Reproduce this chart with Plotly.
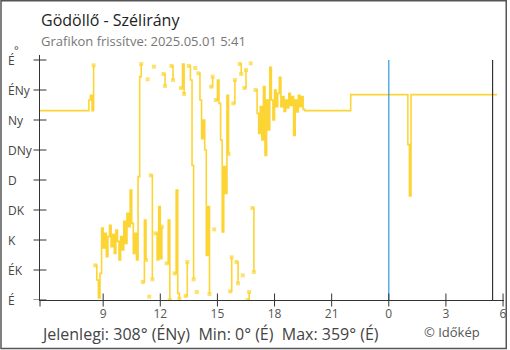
import plotly.graph_objects as go

# Compass labels on the direction axis (degrees)
dir_ticks = [0, 45, 90, 135, 180, 225, 270, 315, 360]
dir_labels = ["É", "ÉK", "K", "DK", "D", "DNy", "Ny", "ÉNy", "É"]

# Hour axis: hours counted from the previous day's midnight
hour_ticks = [9, 12, 15, 18, 21, 24, 27, 30]
hour_text = ["9", "12", "15", "18", "21", "0", "3", "6"]
x_range = [5.683, 30.05]

# Calm morning
early_hours = [5.683]
early_deg = [284]

# Gusty period, 5-minute readings from 8:10
gusty_start = 8 + 10 / 60
gusty_step = 5 / 60
gusty_deg = [
    284, 300, 307, 284, 352, 52, 30, 3, 40, 108,
    78, 100, 65, 95, 112, 80, 98, 70, 105, 88,
    60, 95, 75, 118, 85, 130, 110, 165, 115, 70,
    100, 60, 185, 335, 354, 27, 120, 60, 331, 5,
    187, 31, 350, 100, 60, 140, 62, 110, 339, 321,
    55, 120, 0, 351, 330, 40, 165, 10, 2, 318,
    354, 309, 6, 57, 351, 330, 202, 31, 348, 12,
    340, 300, 242, 270, 225, 67, 140, 9, 320, 335,
    106, 300, 330, 295, 240, 102, 200, 160, 307, 219,
    13, 64, 295, 330, 57, 25, 354, 339, 37, 318,
    345, 0, 12, 355, 138, 42, 315, 280, 250, 290,
    240, 320, 217, 300, 255, 349, 300, 270, 315, 290,
    310, 334, 290, 305, 283, 300, 288, 310, 292, 305,
    247, 300, 282, 307, 290, 305, 286, 284,
]

# Evening and night
late_hours = [22.0, 25.0, 25.083, 25.167, 29.683]
late_deg = [308, 233, 156, 308, 308]

midnight_hour = 24.0
marker_hour = 29.45

hours = (early_hours
         + [gusty_start + i * gusty_step for i in range(len(gusty_deg))]
         + late_hours)
degs = early_deg + gusty_deg + late_deg

# Break the line where the direction swings across north;
# the loose ends get a small square.
xs, ys, ends = [hours[0]], [degs[0]], [False]
for k in range(1, len(degs)):
    if abs(degs[k] - degs[k - 1]) > 180:
        ends[-1] = True
        xs += [None, hours[k]]
        ys += [None, degs[k]]
        ends += [False, True]
    else:
        xs.append(hours[k])
        ys.append(degs[k])
        ends.append(False)
sizes = [4 if e else 0 for e in ends]

YELLOW = "#FCD535"
AXIS = "#333333"
FONT = "Open Sans"

fig = go.Figure()
fig.add_trace(go.Scatter(
    x=xs, y=ys, mode="lines+markers",
    line=dict(color=YELLOW, width=1.6, shape="hv"),
    marker=dict(symbol="square", size=sizes, color=YELLOW, line=dict(width=0)),
    connectgaps=False, hoverinfo="skip", showlegend=False,
))

L, R, T, B, W, H = 40, 3, 55, 50, 510, 350
pw, ph = W - L - R, H - T - B


def px_x(p):
    return (p - L) / pw


def px_y(p):
    return (H - B - p) / ph


TICK = 6.5
shapes = []
# midnight and morning markers
shapes.append(dict(type="line", xref="x", yref="y", x0=midnight_hour, x1=midnight_hour,
                   y0=0, y1=360, line=dict(color="#2a9be0", width=1.2)))
shapes.append(dict(type="line", xref="x", yref="y", x0=marker_hour, x1=marker_hour,
                   y0=0, y1=360, line=dict(color=AXIS, width=1.2)))
# crossing ticks on both axes
for t in hour_ticks:
    shapes.append(dict(type="line", xref="x", yref="paper", x0=t, x1=t,
                       y0=-TICK / ph, y1=TICK / ph, line=dict(color=AXIS, width=1)))
for v in dir_ticks:
    shapes.append(dict(type="line", xref="paper", yref="y", x0=-TICK / pw, x1=TICK / pw,
                       y0=v, y1=v, line=dict(color=AXIS, width=1)))
# y axis poking below the x axis
shapes.append(dict(type="line", xref="paper", yref="paper", x0=0, x1=0,
                   y0=0, y1=-TICK / ph, line=dict(color=AXIS, width=1)))
# frame around the whole card
shapes.append(dict(type="rect", xref="paper", yref="paper",
                   x0=px_x(0.75), x1=px_x(509.25), y0=px_y(348.5), y1=px_y(0.75),
                   line=dict(color="#555555", width=1.5), layer="above"))

annotations = []
for v, lab in zip(dir_ticks, dir_labels):
    annotations.append(dict(xref="paper", yref="y", x=px_x(5.5), y=v, text=lab,
                            xanchor="left", yanchor="middle", showarrow=False,
                            font=dict(family=FONT, size=12, color="#444444")))
annotations.append(dict(xref="paper", yref="paper", x=px_x(16.5), y=px_y(50), text="°",
                        xanchor="center", yanchor="middle", showarrow=False,
                        font=dict(family=FONT, size=11, color="#444444")))
annotations.append(dict(xref="paper", yref="paper", x=px_x(39), y=px_y(20),
                        text="Gödöllő - Szélirány", xanchor="left", yanchor="middle",
                        showarrow=False, font=dict(family=FONT, size=16, color="#222222")))
annotations.append(dict(xref="paper", yref="paper", x=px_x(39), y=px_y(41),
                        text="Grafikon frissítve: 2025.05.01 5:41", xanchor="left",
                        yanchor="middle", showarrow=False,
                        font=dict(family=FONT, size=13, color="#777777")))
annotations.append(dict(xref="paper", yref="paper", x=px_x(39), y=px_y(334),
                        text="Jelenlegi: 308° (ÉNy)&nbsp;&nbsp;Min: 0° (É)&nbsp;&nbsp;Max: 359° (É)",
                        xanchor="left", yanchor="middle", showarrow=False,
                        font=dict(family=FONT, size=16, color="#444444")))
annotations.append(dict(xref="paper", yref="paper", x=px_x(424), y=px_y(332),
                        text="© Időkép", xanchor="left", yanchor="middle", showarrow=False,
                        font=dict(family=FONT, size=13, color="#555555")))

fig.update_layout(
    width=W, height=H,
    margin=dict(l=L, r=R, t=T, b=B),
    paper_bgcolor="white", plot_bgcolor="white",
    font=dict(family=FONT),
    xaxis=dict(range=x_range, tickmode="array", tickvals=hour_ticks, ticktext=hour_text,
               ticks="", ticklabelstandoff=3, showline=True, linecolor=AXIS, linewidth=1,
               showgrid=False, zeroline=False,
               tickfont=dict(family=FONT, size=12, color="#555555")),
    yaxis=dict(range=[0, 367.5], tickmode="array", tickvals=dir_ticks,
               ticks="", showticklabels=False, showline=True, linecolor=AXIS, linewidth=1,
               showgrid=False, zeroline=False),
    shapes=shapes,
    annotations=annotations,
)

fig.write_html("out.html")
